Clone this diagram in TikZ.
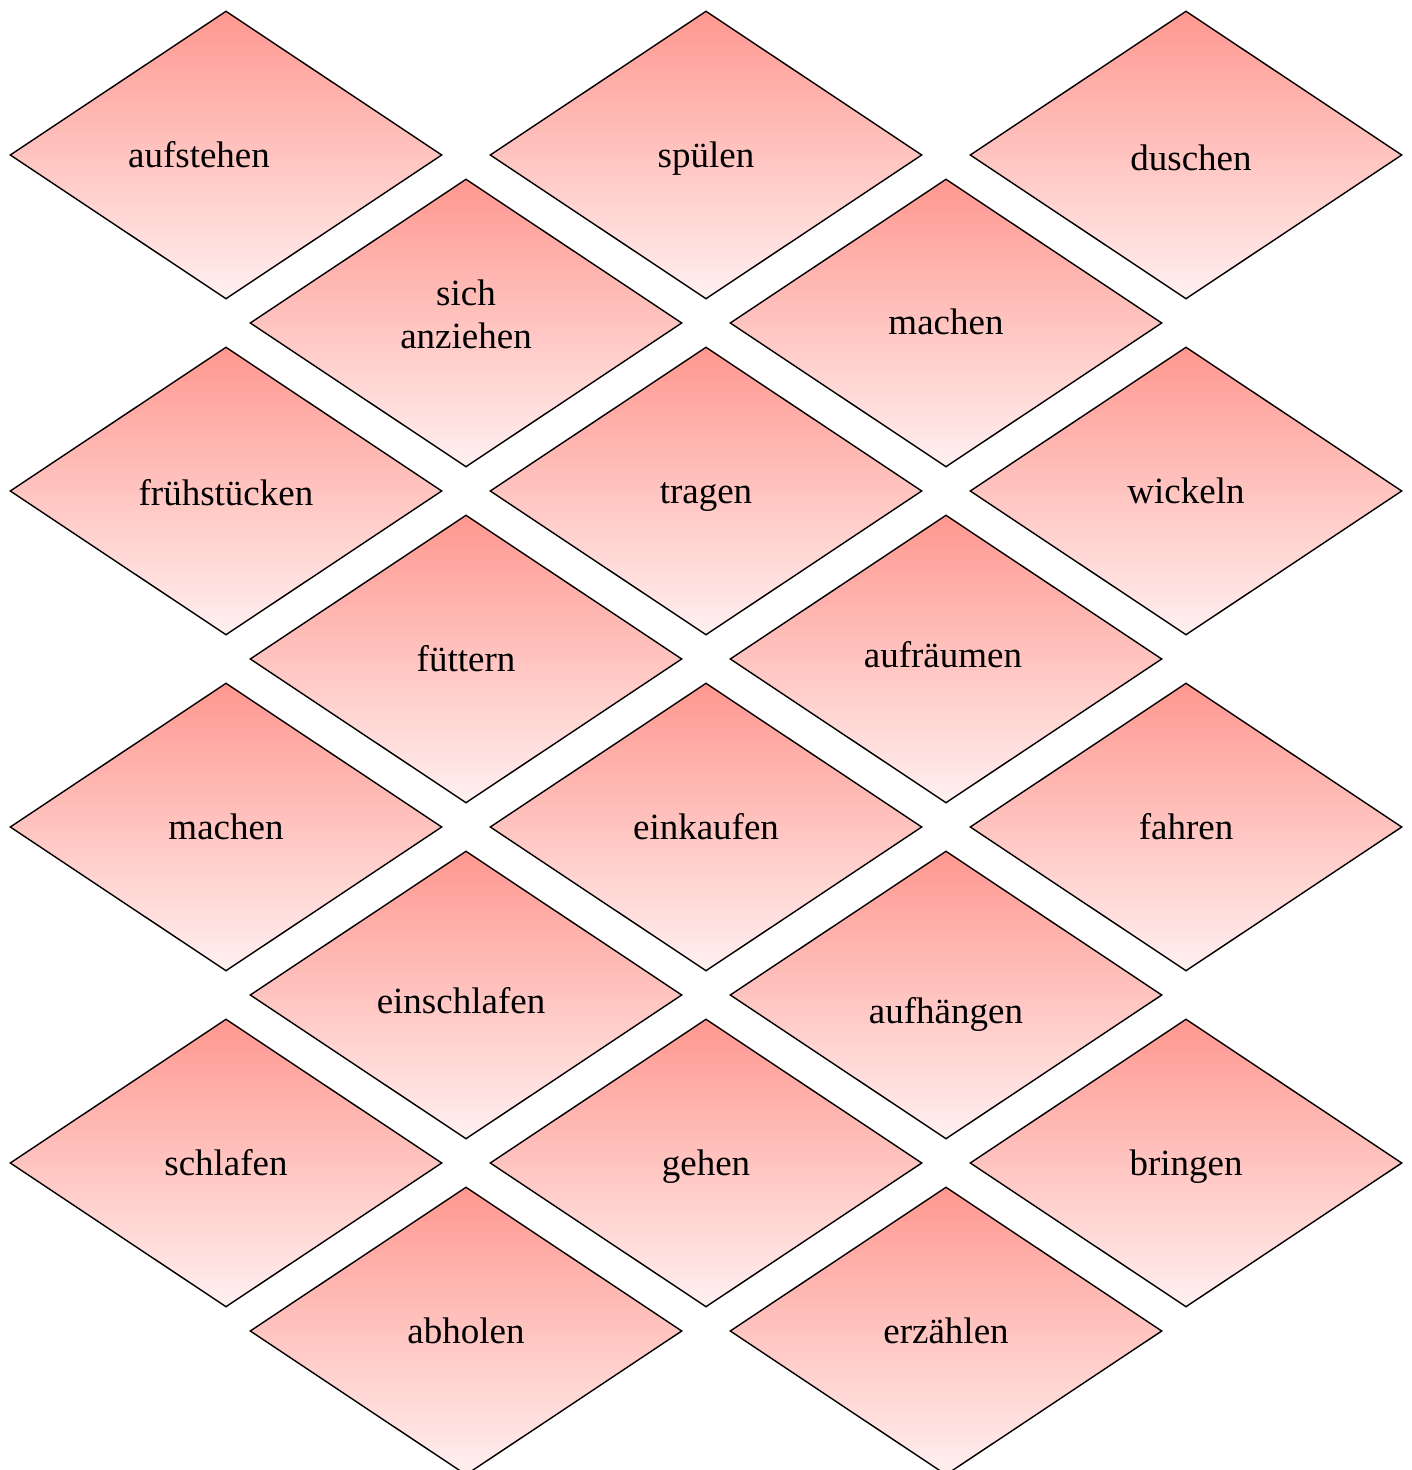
\documentclass[tikz,border=0pt]{standalone}
\usepackage{fontspec}
\setmainfont{Liberation Serif}
\usetikzlibrary{shapes.geometric}
\definecolor{topc}{HTML}{FF9890}
\definecolor{botc}{HTML}{FFF0F0}
\tikzset{
  cell/.style={shape=diamond, draw=black, line width=1.4pt, top color=topc, bottom color=botc,
    minimum width=432pt, minimum height=288pt, inner sep=0pt},
  word/.style={anchor=base, inner sep=0pt, font=\fontsize{37}{42}\selectfont, align=center}
}
\begin{document}
\begin{tikzpicture}[x=1pt,y=1pt]
\useasboundingbox (0,0) rectangle (1412,-1470);
% row 1
\node[cell] (d1) at (226,-155) {};
\node[cell] (d2) at (706,-155) {};
\node[cell] (d3) at (1186,-155) {};
% row 2
\node[cell] (d4) at (466,-323) {};
\node[cell] (d5) at (946,-323) {};
% row 3
\node[cell] (d6) at (226,-491) {};
\node[cell] (d7) at (706,-491) {};
\node[cell] (d8) at (1186,-491) {};
% row 4
\node[cell] (d9) at (466,-659) {};
\node[cell] (d10) at (946,-659) {};
% row 5
\node[cell] (d11) at (226,-827) {};
\node[cell] (d12) at (706,-827) {};
\node[cell] (d13) at (1186,-827) {};
% row 6
\node[cell] (d14) at (466,-995) {};
\node[cell] (d15) at (946,-995) {};
% row 7
\node[cell] (d16) at (226,-1163) {};
\node[cell] (d17) at (706,-1163) {};
\node[cell] (d18) at (1186,-1163) {};
% row 8
\node[cell] (d19) at (466,-1331) {};
\node[cell] (d20) at (946,-1331) {};
% texts
\node[word] (t1) at (199,-167) {aufstehen};
\node[word] (t2) at (706,-167) {spülen};
\node[word] (t3) at (1191,-170) {duschen};
\node[word] (t4a) at (466,-305) {sich};
\node[word] (t4b) at (466,-348) {anziehen};
\node[word] (t5) at (946,-334) {machen};
\node[word] (t6) at (226,-505) {frühstücken};
\node[word] (t7) at (706,-503) {tragen};
\node[word] (t8) at (1186,-503) {wickeln};
\node[word] (t9) at (466,-671) {füttern};
\node[word] (t10) at (943,-667) {aufräumen};
\node[word] (t11) at (226,-839) {machen};
\node[word] (t12) at (706,-839) {einkaufen};
\node[word] (t13) at (1186,-839) {fahren};
\node[word] (t14) at (461,-1013) {einschlafen};
\node[word] (t15) at (946,-1023) {aufhängen};
\node[word] (t16) at (226,-1175) {schlafen};
\node[word] (t17) at (706,-1175) {gehen};
\node[word] (t18) at (1186,-1175) {bringen};
\node[word] (t19) at (466,-1343) {abholen};
\node[word] (t20) at (946,-1343) {erzählen};
\end{tikzpicture}
\end{document}
